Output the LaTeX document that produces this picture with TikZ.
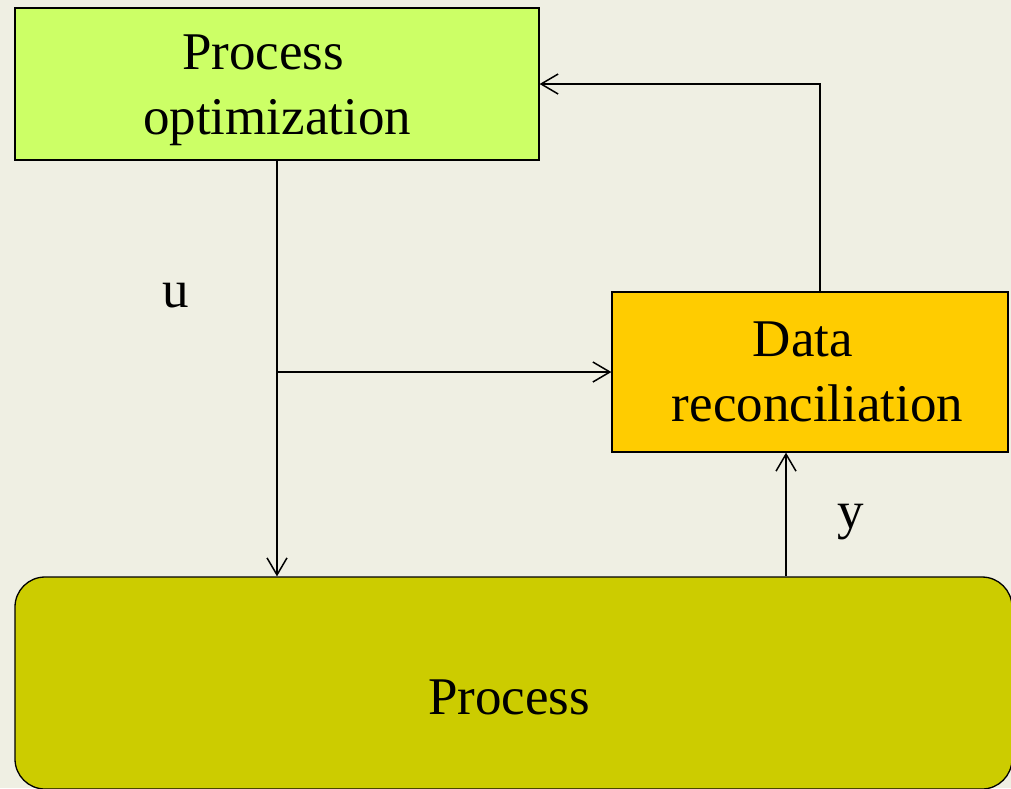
\documentclass[tikz,border=0pt]{standalone}
\usepackage{fontspec}
\setmainfont{Liberation Serif}
\usetikzlibrary{arrows.meta}
\definecolor{bgc}{HTML}{EFEFE3}
\definecolor{optc}{HTML}{CCFF66}
\definecolor{datac}{HTML}{FFCC00}
\definecolor{procc}{HTML}{CCCC00}
\begin{document}
\begin{tikzpicture}[x=1pt,y=-1pt,
  box/.style={draw=black, line width=1.3pt, inner sep=0pt, align=center,
    font=\fontsize{53}{65}\selectfont},
  lbl/.style={inner sep=0pt, font=\fontsize{53}{65}\selectfont},
  conn/.style={line width=1.5pt, -{Straight Barb[length=17pt,width=20pt,line width=1.5pt]}},
  plain/.style={line width=1.5pt}]
\useasboundingbox (0,0) rectangle (1011,788);
\fill[bgc] (0,0) rectangle (1011,788);
\begin{scope}
\clip (0,0) rectangle (1011,788);
\node[box, fill=procc, rounded corners=30pt, minimum width=997pt, minimum height=212pt] (proc) at (513.5,683) {};
\end{scope}
\node[lbl] (proctext) at (509,697) {Process};
\node[box, fill=optc, minimum width=524pt, minimum height=152pt] (opt) at (277,84) {\rule{0pt}{48pt}Process\hspace*{28pt}\\optimization};
\node[box, fill=datac, minimum width=396pt, minimum height=160pt] (data) at (810,372) {Data\hspace*{14pt}\\\hspace*{15pt}reconciliation};
\node[lbl] (u) at (176,296) {u};
\node[lbl] (y) at (851,522) {y};
\coordinate (br) at (277,372);
\draw[conn] (opt.south) -- (proc.north -| opt.south);
\draw[conn] (br) -- (data.west);
\draw[conn] (proc.north -| 786,0) -- (data.south -| 786,0);
\draw[conn] (data.north -| 820,0) -- (820,84) -- (opt.east);
\end{tikzpicture}
\end{document}
